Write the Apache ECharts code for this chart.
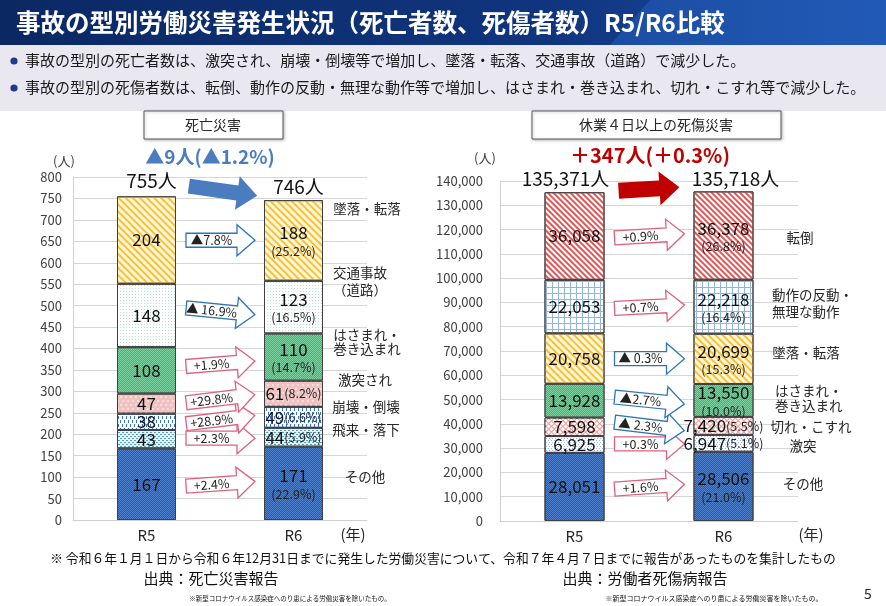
<!DOCTYPE html>
<html>
<head>
<meta charset="utf-8">
<script src="https://cdn.jsdelivr.net/npm/echarts@6/dist/echarts.min.js"></script>
<style>
  html, body { margin: 0; padding: 0; background: #fff; }
  #main { width: 886px; height: 606px; }
</style>
</head>
<body>
<div id="main"></div>
<script>
// ---- data (stack order: bottom -> top) ----
const years = ['R5', 'R6'];

const deathTypes = ['その他', '飛来・落下', '崩壊・倒壊', '激突され', 'はさまれ・\n巻き込まれ', '交通事故\n（道路）', '墜落・転落'];
const deathR5 = [167, 43, 38, 47, 108, 148, 204];
const deathR6 = [171, 44, 49, 61, 110, 123, 188];
const deathShareR6 = ['22.9', '5.9', '6.6', '8.2', '14.7', '16.5', '25.2'];
const deathChange = ['+2.4%', '+2.3%', '+28.9%', '+29.8%', '+1.9%', '▲ 16.9%', '▲7.8%'];
const deathTotals = ['755人', '746人'];
const deathDiff = '▲9人(▲1.2%)';

const injTypes = ['その他', '激突', '切れ・こすれ', 'はさまれ・\n巻き込まれ', '墜落・転落', '動作の反動・\n無理な動作', '転倒'];
const injR5 = [28051, 6925, 7598, 13928, 20758, 22053, 36058];
const injR6 = [28506, 6947, 7420, 13550, 20699, 22218, 36378];
const injShareR6 = ['21.0', '5.1', '5.5', '10.0', '15.3', '16.4', '26.8'];
const injChange = ['+1.6%', '+0.3%', '▲ 2.3%', '▲2.7%', '▲ 0.3%', '+0.7%', '+0.9%'];
const injTotals = ['135,371人', '135,718人'];
const injDiff = '＋347人(＋0.3%)';

const FONT = "'Noto Sans CJK JP', 'Noto Sans', sans-serif";
const fmt = v => v.toLocaleString('en-US');

// fill patterns
const P = {
  blue:   { color: '#4f80cc', decal: { symbol: 'rect', symbolSize: 1, color: '#2d5aa6', dashArrayX: [[1, 1], [0, 1, 1, 0]], dashArrayY: [1, 0] } },
  wave:   { color: '#e6f1f3', decal: { symbol: 'rect', symbolSize: 1, color: '#5b9cb3', dashArrayX: [[2, 2], [0, 2, 2, 0]], dashArrayY: [1, 1] } },
  dash:   { color: '#ffffff', decal: { symbol: 'rect', symbolSize: 1, color: '#3a72c4', dashArrayX: [[1, 3], [0, 2, 1, 1]], dashArrayY: [3, 1] } },
  pink:   { color: '#efc2c2', decal: { symbol: 'circle', symbolSize: 0.8, color: '#ffffff', dashArrayX: [[2, 3], [0, 2, 2, 1]], dashArrayY: [2, 2] } },
  green:  { color: '#7dd3a2', decal: { symbol: 'rect', symbolSize: 1, color: '#43b272', dashArrayX: [[1, 1], [0, 1, 1, 0]], dashArrayY: [1, 0] } },
  teal:   { color: '#ffffff', decal: { symbol: 'circle', symbolSize: 1, color: '#9fd8c8', dashArrayX: [1, 2], dashArrayY: [1, 2] } },
  yellow: { color: '#fff6d6', decal: { symbol: 'rect', symbolSize: 1, color: '#f6c23c', dashArrayX: [1, 0], dashArrayY: [2, 3], rotation: Math.PI / 4 } },
  bdots:  { color: '#ffffff', decal: { symbol: 'circle', symbolSize: 0.9, color: '#3a6fc0', dashArrayX: [[1, 2], [0, 2, 1, 0]], dashArrayY: [1, 1] } },
  cross:  { color: '#f29a9a', decal: { symbol: 'rect', symbolSize: 1, color: '#ffffff', dashArrayX: [3, 1], dashArrayY: [3, 1], rotation: Math.PI / 4 } },
  grid:   { color: '#ffffff', decal: { symbol: 'rect', symbolSize: 1, color: '#8fb6e4', dashArrayX: [[6, 0], [1, 5], [1, 5], [1, 5], [1, 5], [1, 5]], dashArrayY: [1, 0] } },
  red:    { color: '#ffffff', decal: { symbol: 'rect', symbolSize: 1, color: '#df5757', dashArrayX: [1, 0], dashArrayY: [2, 2], rotation: Math.PI / 4 } }
};
const deathStyles = [P.blue, P.wave, P.dash, P.pink, P.green, P.teal, P.yellow];
const injStyles = [P.blue, P.bdots, P.cross, P.green, P.yellow, P.grid, P.red];

function buildSeries(names, r5, r6, shares, styles, gi, axisMax, barWidth) {
  return names.map((n, i) => ({
    type: 'bar',
    name: n,
    stack: 'total' + gi,
    xAxisIndex: gi,
    yAxisIndex: gi,
    barWidth: barWidth,
    data: [r5[i], r6[i]],
    itemStyle: Object.assign({ borderColor: '#404040', borderWidth: 1 }, styles[i]),
    label: {
      show: true,
      position: 'inside',
      formatter: p => {
        const v = '{v|' + fmt(p.value) + '}';
        if (p.dataIndex === 0) return v;
        const inline = p.value / axisMax < 0.085;
        return v + (inline ? '' : '\n') + '{p|(' + shares[i] + '%)}';
      },
      rich: {
        v: { fontSize: 17, fontFamily: FONT, color: '#111', lineHeight: 21 },
        p: { fontSize: 12.5, fontFamily: FONT, color: '#222', lineHeight: 15 }
      }
    }
  }));
}

const axisLabelStyle = { color: '#404040', fontSize: 13, fontFamily: FONT };

const chart = echarts.init(document.getElementById('main'));
chart.setOption({
  animation: false,
  backgroundColor: '#ffffff',
  grid: [
    { left: 73, right: 519, top: 177, bottom: 86 },
    { left: 500, right: 88, top: 181, bottom: 85 }
  ],
  xAxis: [0, 1].map(gi => ({
    type: 'category', gridIndex: gi, data: years,
    axisTick: { show: false },
    axisLine: { lineStyle: { color: '#d0d0d0' } },
    axisLabel: { color: '#262626', fontSize: 15, fontFamily: FONT, margin: 8 }
  })),
  yAxis: [
    { type: 'value', gridIndex: 0, min: 0, max: 800, interval: 50,
      axisLine: { show: true, lineStyle: { color: '#d0d0d0' } },
      splitLine: { lineStyle: { color: '#d6d6d6' } },
      axisLabel: Object.assign({ margin: 11 }, axisLabelStyle) },
    { type: 'value', gridIndex: 1, min: 0, max: 140000, interval: 10000,
      axisLine: { show: true, lineStyle: { color: '#d0d0d0' } },
      splitLine: { lineStyle: { color: '#d6d6d6' } },
      axisLabel: Object.assign({ margin: 17, formatter: v => fmt(v) }, axisLabelStyle) }
  ],
  series: buildSeries(deathTypes, deathR5, deathR6, deathShareR6, deathStyles, 0, 800, 59)
    .concat(buildSeries(injTypes, injR5, injR6, injShareR6, injStyles, 1, 140000, 60))
});

// ---- annotations ----
function px(gi, x, y) { return chart.convertToPixel({ gridIndex: gi }, [x, y]); }

function txt(text, x, y, o) {
  o = o || {};
  return {
    type: 'text', x: x, y: y, z: 100,
    style: {
      text: text, fontSize: o.size || 13, fontFamily: FONT, fontWeight: o.weight || 'normal',
      fill: o.color || '#262626', align: o.align || 'center', verticalAlign: 'middle',
      lineHeight: o.lh || undefined
    }
  };
}

function blockArrow(cx, cy, len, bodyH, headH, headL, rot, fill, stroke, label) {
  const L = len / 2, b = bodyH / 2, h = headH / 2;
  const kids = [{
    type: 'polygon',
    shape: { points: [[-L, -b], [L - headL, -b], [L - headL, -h], [L, 0], [L - headL, h], [L - headL, b], [-L, b]] },
    style: { fill: fill, stroke: stroke, lineWidth: stroke ? 1.3 : 0 }
  }];
  if (label) {
    kids.push({ type: 'text', x: -headL / 2, y: 0,
      style: { text: label, fontSize: 12.5, fontFamily: FONT, fill: '#222', align: 'center', verticalAlign: 'middle' } });
  }
  return { type: 'group', x: cx, y: cy, rotation: rot, z: 90, children: kids };
}

function changeArrows(gi, r5, r6, changes, tilts, barW) {
  const x0 = px(gi, 0, 0)[0] + barW / 2 + 10;
  const x1 = px(gi, 1, 0)[0] - barW / 2 - 9;
  let c5 = 0, c6 = 0;
  return r5.map((v, i) => {
    const y = (px(gi, 0, c5 + v / 2)[1] + px(gi, 1, c6 + r6[i] / 2)[1]) / 2;
    c5 += v; c6 += r6[i];
    const down = changes[i].indexOf('▲') === 0;
    return blockArrow((x0 + x1) / 2, y, x1 - x0, 14, 31, 18, tilts[i], '#ffffff',
      down ? '#2e75b6' : '#e0607e', changes[i]);
  });
}

const deathTilts = [0.07, 0, 0.12, 0.12, 0.08, -0.1, 0];
const injTilts = [0.07, 0, -0.12, -0.1, 0, 0.05, 0.06];

const d0 = px(0, 0, 0)[0], d1 = px(0, 1, 0)[0];
const i0 = px(1, 0, 0)[0], i1 = px(1, 1, 0)[0];

const g = [
  // header band
  { type: 'rect', shape: { x: 0, y: 0, width: 886, height: 45 }, z: 1,
    style: { fill: new echarts.graphic.LinearGradient(0, 0, 1, 0, [
      { offset: 0, color: '#0b2863' }, { offset: 0.62, color: '#10357f' }, { offset: 1, color: '#1b4ea6' }]) } },
  { type: 'polygon', z: 2, shape: { points: [[610, 45], [650, 0], [886, 0], [886, 45]] },
    style: { fill: 'rgba(45,115,215,0.35)' } },
  { type: 'rect', shape: { x: 0, y: 45, width: 886, height: 66 }, z: 1, style: { fill: '#e9e8f1' } },
  txt('事故の型別労働災害発生状況（死亡者数、死傷者数）R5/R6比較', 16, 23, { size: 24.5, weight: 'bold', color: '#ffffff', align: 'left' }),
  { type: 'circle', shape: { cx: 14, cy: 61, r: 3.6 }, style: { fill: '#1f3a8a' }, z: 100 },
  { type: 'circle', shape: { cx: 14, cy: 88, r: 3.6 }, style: { fill: '#1f3a8a' }, z: 100 },
  txt('事故の型別の死亡者数は、激突され、崩壊・倒壊等で増加し、墜落・転落、交通事故（道路）で減少した。', 25, 60, { size: 15, align: 'left', color: '#1a1a1a' }),
  txt('事故の型別の死傷者数は、転倒、動作の反動・無理な動作等で増加し、はさまれ・巻き込まれ、切れ・こすれ等で減少した。', 25, 87, { size: 15, align: 'left', color: '#1a1a1a' }),

  // chart titles
  { type: 'rect', z: 50, shape: { x: 144, y: 111, width: 139, height: 28 },
    style: { fill: '#fff', stroke: '#595959', lineWidth: 1, shadowColor: 'rgba(0,0,0,0.25)', shadowBlur: 3, shadowOffsetX: 1, shadowOffsetY: 1 } },
  txt('死亡災害', 213, 125, { size: 14 }),
  { type: 'rect', z: 50, shape: { x: 532, y: 111, width: 249, height: 28 },
    style: { fill: '#fff', stroke: '#595959', lineWidth: 1, shadowColor: 'rgba(0,0,0,0.25)', shadowBlur: 3, shadowOffsetX: 1, shadowOffsetY: 1 } },
  txt('休業４日以上の死傷災害', 656, 125, { size: 14 }),

  // totals and differences
  txt(deathDiff, 210, 157, { size: 19, weight: 'bold', color: '#4a7cc0' }),
  txt(injDiff, 650, 155, { size: 20, weight: 'bold', color: '#c00000' }),
  txt(deathTotals[0], d0 + 5, 181, { size: 19, color: '#111' }),
  txt(deathTotals[1], d1 + 5, 187, { size: 19, color: '#111' }),
  txt(injTotals[0], i0 - 9, 179, { size: 19, color: '#111' }),
  txt(injTotals[1], i1 + 12, 179, { size: 19, color: '#111' }),
  blockArrow((d0 + 42 + d1 - 36) / 2, 191, d1 - d0 - 78, 15, 34, 20, -0.14, '#4a7cc0', null, null),
  blockArrow((i0 + 44 + i1 - 44) / 2, 189, i1 - i0 - 88, 16, 34, 20, 0.06, '#c00000', null, null),

  // axis units
  txt('(人)', 64, 161, { size: 13, color: '#404040' }),
  txt('(人)', 485, 158, { size: 13, color: '#404040' }),
  txt('(年)', 353, 534, { size: 15, color: '#262626' }),
  txt('(年)', 811, 534, { size: 15, color: '#262626' }),

  // category names beside R6 bars
  txt(deathTypes[6], 367, 209, { size: 13.5 }),
  txt(deathTypes[5], 360, 281, { size: 13.5, lh: 17 }),
  txt(deathTypes[4], 367, 342, { size: 13.5, lh: 14 }),
  txt(deathTypes[3], 365, 380, { size: 13.5 }),
  txt(deathTypes[2], 366, 407, { size: 13.5 }),
  txt(deathTypes[1], 366, 430, { size: 13.5 }),
  txt(deathTypes[0], 365, 477, { size: 13.5 }),
  txt(injTypes[6], 800, 238, { size: 13.5 }),
  txt(injTypes[5], 772, 303, { size: 13.5, lh: 17, align: 'left' }),
  txt(injTypes[4], 806, 353, { size: 13.5 }),
  txt(injTypes[3], 775, 398, { size: 13.5, lh: 15, align: 'left' }),
  txt(injTypes[2], 811, 427, { size: 13.5 }),
  txt(injTypes[1], 803, 446, { size: 13.5 }),
  txt(injTypes[0], 803, 484, { size: 13.5 }),

  // footer
  txt('※ 令和６年１月１日から令和６年12月31日までに発生した労働災害について、令和７年４月７日までに報告があったものを集計したもの', 443, 558, { size: 12.8, color: '#111' }),
  txt('出典：死亡災害報告', 211, 578, { size: 15, color: '#111' }),
  txt('出典：労働者死傷病報告', 645, 578, { size: 15, color: '#111' }),
  txt('※新型コロナウイルス感染症へのり患による労働災害を除いたもの。', 290, 599, { size: 6.5, color: '#111' }),
  txt('※新型コロナウイルス感染症へのり患による労働災害を除いたもの。', 714, 598, { size: 7, color: '#111' }),
  txt('5', 868, 594, { size: 14, color: '#222' })
]
  .concat(changeArrows(0, deathR5, deathR6, deathChange, deathTilts, 59))
  .concat(changeArrows(1, injR5, injR6, injChange, injTilts, 60));

chart.setOption({ graphic: g });
</script>
</body>
</html>
